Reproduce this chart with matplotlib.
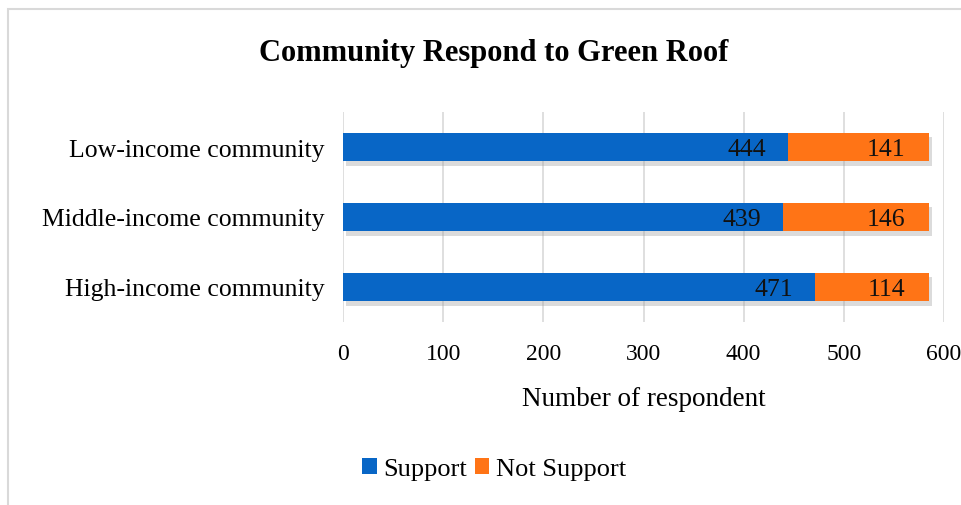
import matplotlib
matplotlib.use("Agg")
import matplotlib.pyplot as plt
from matplotlib.patches import Rectangle, Patch
import matplotlib.patheffects as pe

categories = ["Low-income community", "Middle-income community", "High-income community"]
support = [444, 439, 471]
not_support = [141, 146, 114]
x_ticks = [0, 100, 200, 300, 400, 500, 600]

BLUE = "#0866C6"
ORANGE = "#FF7416"
FONT = ["Liberation Serif", "DejaVu Serif"]

W, H = 961, 506
fig = plt.figure(figsize=(W / 100, H / 100), dpi=100)
fig.patch.set_facecolor("white")

# chart frame (top and left edges visible)
fig.add_artist(Rectangle((8 / W, -0.1), 1.2, (H - 10) / H + 0.1,
                         transform=fig.transFigure, fill=False,
                         edgecolor="#D9D9D9", linewidth=1.5))

ax = fig.add_axes([343 / W, 1 - 323 / H, (944 - 343) / W, (323 - 113) / H])

y = list(range(len(categories)))
shadow = [pe.SimplePatchShadow(offset=(2, -3), shadow_rgbFace="#9A9A9A", alpha=0.35),
          pe.Normal()]
ax.barh(y, support, height=0.41, color=BLUE, path_effects=shadow, zorder=3)
ax.barh(y, not_support, left=support, height=0.41, color=ORANGE,
        path_effects=shadow, zorder=3)

for yi, s, n in zip(y, support, not_support):
    ax.text(s - 22, yi + 0.03, str(s), ha="right", va="center", fontsize=18.5,
            family=FONT, color="#111111", zorder=4)
    ax.text(s + n - 24, yi + 0.03, str(n), ha="right", va="center", fontsize=18.5,
            family=FONT, color="#111111", zorder=4)

ax.set_xlim(0, 600)
ax.set_ylim(len(categories) - 0.5, -0.5)
ax.set_xticks(x_ticks)
ax.set_xticklabels([str(t) for t in x_ticks], family=FONT, fontsize=17)
ax.set_yticks(y)
ax.set_yticklabels(categories, family=FONT, fontsize=18.5)
ax.tick_params(axis="y", length=0, pad=13)
ax.tick_params(axis="x", length=0, pad=15)
ax.grid(axis="x", color="#D9D9D9", linewidth=1.2, zorder=0)
for sp in ax.spines.values():
    sp.set_visible(False)

ax.set_xlabel("Number of respondent", family=FONT, fontsize=19.5, labelpad=16)

fig.text(494 / W, 1 - 53 / H, "Community Respond to Green Roof", ha="center",
         va="center", fontsize=22, fontweight="bold", family=FONT)

handles = [Patch(facecolor=BLUE), Patch(facecolor=ORANGE)]
fig.legend(handles=handles, labels=["Support", "Not Support"],
           loc="center", bbox_to_anchor=(494 / W, 1 - 470 / H), ncol=2,
           frameon=False, prop={"family": FONT, "size": 19},
           handlelength=0.55, handleheight=0.55, handletextpad=0.25,
           columnspacing=0.3)

fig.savefig("out.png", dpi=100)
